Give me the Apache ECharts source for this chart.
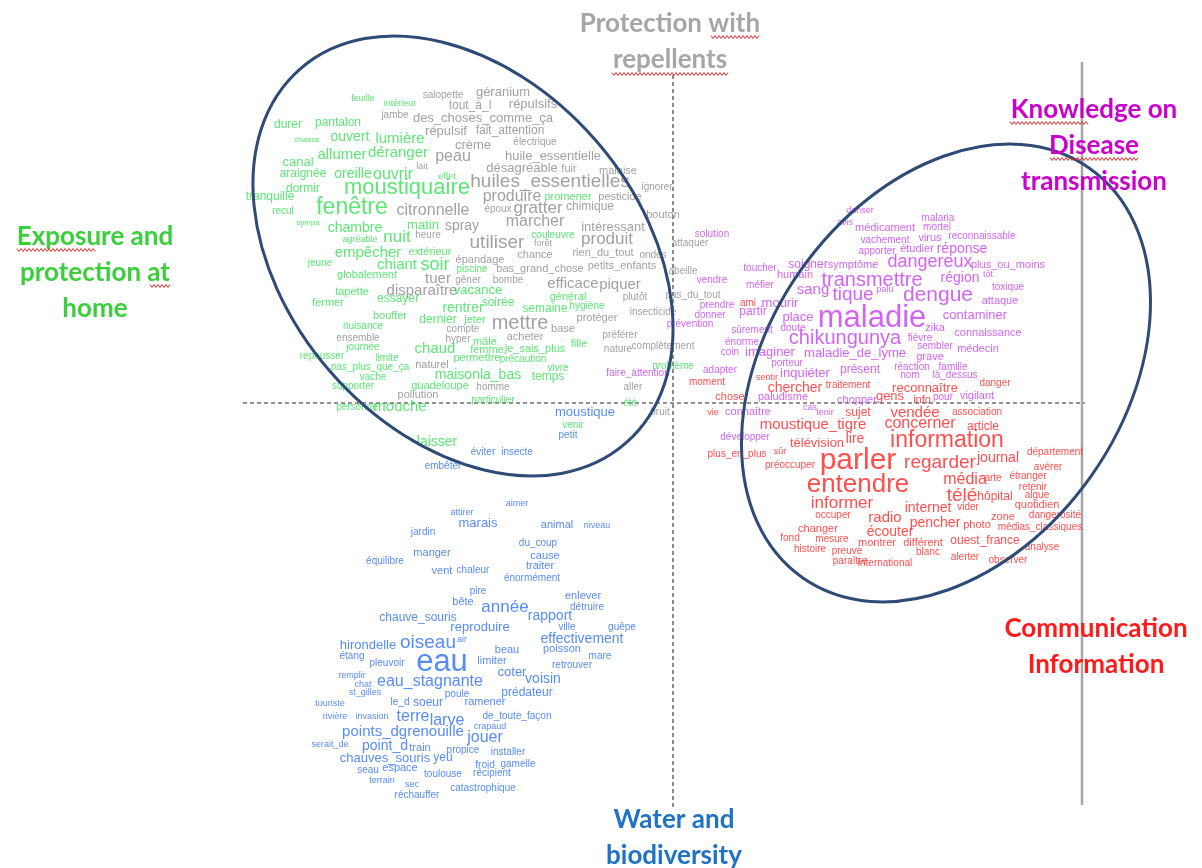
<!DOCTYPE html>
<html>
<head>
<meta charset="utf-8">
<script src="https://cdn.jsdelivr.net/npm/echarts@6/dist/echarts.min.js"></script>
<style>html,body{margin:0;padding:0;background:#fff}#c{width:1202px;height:868px}</style>
</head>
<body>
<div id="c"></div>
<script>
// [word, factor1, factor2, weight]
const greenWords = [
 ["feuille",-310,304,9],["intérieur",-273,299,9],["durer",-385,278,12],["pantalon",-335,280,12],
 ["chasse",-366,263,8],["ouvert",-323,266,14],["lumière",-273,264,15],["allumer",-331,248,15],
 ["déranger",-275,250,15],["canal",-375,241,13],["araignée",-370,229,12],["oreille",-320,229,14],
 ["ouvrir",-280,228,16],["effet",-226,226,9],["dormir",-370,214,12],["moustiquaire",-266,215,22],
 ["tranquille",-403,206,12],["fenêtre",-321,195,23],["recul",-390,192,10],["sympa",-365,180,8],
 ["chambre",-318,175,14],["matin",-250,178,13],["agréable",-313,163,9],["nuit",-276,166,17],
 ["promener",-105,206,11],["couleuvre",-120,168,10],["empêcher",-305,150,15],["extérieur",-243,151,11],
 ["jeune",-353,140,10],["chiant",-276,138,15],["soir",-238,138,18],["globalement",-306,128,11],
 ["tapette",-321,111,11],["essayer",-275,104,12],["fermer",-345,100,11],["bouffer",-283,87,11],
 ["dernier",-235,83,12],["nuisance",-310,77,10],["journée",-310,56,10],["chaud",-238,54,15],
 ["repousser",-351,47,10],["limite",-286,45,10],["pas_plus_que_ça",-303,36,10],["vache",-300,26,10],
 ["supporter",-320,17,10],["guadeloupe",-233,17,11],["personne",-316,-4,10],["mouche",-273,-4,15],
 ["laisser",-236,-39,14],["piscine",-201,134,10],["vacance",-195,113,13],["général",-105,106,11],
 ["rentrer",-210,95,14],["soirée",-175,100,12],["semaine",-128,94,12],["hygiène",-86,97,10],
 ["jeter",-198,83,11],["mâle",-188,61,11],["fille",-94,59,11],["femme",-186,53,11],
 ["je_sais_plus",-138,54,11],["permettre",-196,45,11],["précaution",-150,44,10],["maisonla_bas",-195,28,14],
 ["temps",-125,26,12],["vivre",-115,35,10],["problème",0,37,10],["particulier",-180,3,10],
 ["été",-43,0,10],["venir",-100,-22,10]
];
const greyWords = [
 ["salopette",-230,308,10],["tout_à_l",-203,297,12],["jambe",-278,288,10],["des_choses_comme_ça",-190,285,13],
 ["répulsif",-227,272,13],["fait_attention",-163,272,12],["géranium",-170,311,13],["répulsifs",-140,299,13],
 ["crème",-200,258,13],["électrique",-138,261,10],["peau",-220,246,16],["lait",-251,236,9],
 ["huile_essentielle",-120,247,13],["désagréable",-151,235,13],["fuir",-104,234,11],["malaise",-55,232,11],
 ["huiles_essentielles",-123,221,19],["ignorer",-16,216,10],["produire",-161,206,16],["pesticide",-53,206,11],
 ["époux",-175,194,10],["gratter",-135,195,17],["chimique",-83,196,12],["bouton",-10,188,11],
 ["citronnelle",-240,192,16],["marcher",-138,181,16],["spray",-211,177,14],["intéressant",-60,176,13],
 ["heure",-245,168,10],["utiliser",-176,160,19],["forêt",-130,159,9],["produit",-66,164,17],
 ["attaquer",17,160,10],["tuer",-235,124,15],["disparaître",-251,112,15],["ensemble",-315,65,10],
 ["naturel",-241,38,11],["pollution",-255,8,11],["épandage",-193,143,11],["chance",-138,148,11],
 ["rien_du_tout",-70,150,11],["ondes",-20,148,10],["bas_grand_chose",-133,134,11],["petits_enfants",-51,137,11],
 ["abeille",10,132,10],["gêner",-205,123,10],["bombe",-165,123,10],["efficace",-100,119,15],
 ["piquer",-53,118,15],["plutôt",-38,106,10],["insecticide",-20,91,10],["mettre",-153,80,20],
 ["protéger",-76,85,11],["base",-110,74,11],["compte",-210,74,10],["hyper",-215,64,10],
 ["acheter",-148,66,11],["préférer",-53,68,10],["nature",-55,54,10],["complètement",-10,57,10],
 ["homme",-180,16,10],["aller",-40,16,10],["bruit",-13,-9,10],["pas_du_tout",20,108,10]
];
const magentaWords = [
 ["danser",187,192,9],["avis",172,180,9],["médicament",212,175,11],["malaria",265,185,10],
 ["mortel",264,176,10],["vachement",212,163,10],["virus",257,165,11],["reconnaissable",309,167,10],
 ["apporter",204,152,10],["étudier",244,154,11],["réponse",289,154,14],["symptôme",180,138,11],
 ["solution",39,169,10],["toucher",87,135,10],["soigner",135,138,12],["humain",122,128,11],
 ["dangereux",257,141,18],["plus_ou_moins",335,138,11],["transmettre",199,123,20],["vendre",39,123,10],
 ["région",287,125,14],["tôt",315,128,9],["palu",212,113,9],["sang",140,113,15],
 ["méfier",87,118,10],["tique",180,108,19],["toxique",335,116,10],["dengue",265,108,21],
 ["attaque",327,102,11],["prendre",44,98,10],["mourir",107,100,13],["donner",37,88,10],
 ["partir",80,91,12],["place",125,86,13],["maladie",199,85,31],["prévention",17,79,10],
 ["contaminer",302,88,13],["zika",262,75,11],["connaissance",315,70,11],["sûrement",79,73,10],
 ["doute",120,75,10],["chikungunya",172,65,20],["fièvre",247,65,10],["sembler",262,57,10],
 ["médecin",305,54,11],["énorme",69,61,10],["coin",57,51,10],["imaginer",97,51,13],
 ["maladie_de_lyme",182,50,13],["grave",257,46,11],["porteur",114,40,10],["réaction",239,36,10],
 ["famille",280,36,10],["adapter",47,33,10],["inquiéter",132,30,13],["présent",187,33,12],
 ["nom",237,28,10],["là_dessus",282,28,10],["paludisme",110,6,11],["chopper",184,3,11],
 ["connaître",75,-9,11],["cas",137,-5,9],["tenir",152,-10,9],["développer",72,-34,10],
 ["pour",270,6,10],["vigilant",304,7,11],["faire_attention",-35,30,10]
];
const redWords = [
 ["moment",34,21,10],["sentir",94,25,9],["chercher",122,15,14],["traitement",175,18,10],
 ["reconnaître",252,15,13],["danger",322,20,10],["chose",57,6,11],["gens",217,7,13],
 ["info",249,3,11],["vie",40,-10,9],["sujet",185,-10,12],["vendée",242,-10,15],
 ["association",304,-9,10],["moustique_tigre",140,-22,15],["concerner",247,-21,16],["article",310,-24,12],
 ["télévision",144,-40,13],["lire",182,-36,14],["information",274,-38,23],["plus_en_plus",64,-51,10],
 ["sûr",107,-49,9],["préoccuper",117,-62,10],["parler",185,-58,30],["regarder",267,-60,19],
 ["journal",325,-55,14],["département",382,-49,10],["avérer",375,-64,10],["entendre",185,-82,26],
 ["média",292,-77,16],["arte",320,-75,10],["étranger",355,-73,10],["retenir",360,-84,10],
 ["télé",289,-93,19],["hôpital",322,-94,12],["algue",364,-92,10],["quotidien",364,-102,11],
 ["informer",169,-100,17],["internet",255,-105,14],["vider",295,-104,10],["dangerosité",382,-112,10],
 ["radio",212,-115,15],["zone",330,-114,11],["occuper",160,-112,10],["pencher",262,-120,14],
 ["photo",304,-122,11],["médias_classiques",367,-124,10],["écouter",217,-129,14],["changer",145,-126,11],
 ["fond",117,-135,10],["mesure",159,-136,10],["montrer",204,-140,11],["différent",250,-140,11],
 ["ouest_france",312,-138,12],["analyse",369,-144,10],["histoire",137,-146,10],["preuve",174,-148,10],
 ["blanc",255,-149,10],["paraître",177,-158,10],["international",212,-160,10],["alerter",292,-154,10],
 ["observer",335,-157,10],["ami",75,100,10]
];
const blueWords = [
 ["moustique",-88,-9,13],["petit",-105,-32,10],["éviter",-190,-49,10],["insecte",-156,-49,10],
 ["embêter",-230,-63,10],["attirer",-211,-110,9],["aimer",-156,-101,9],["marais",-195,-120,13],
 ["animal",-116,-122,11],["niveau",-76,-123,9],["jardin",-250,-129,10],["du_coup",-135,-140,10],
 ["manger",-241,-150,11],["équilibre",-288,-158,10],["cause",-128,-153,11],["traiter",-133,-163,11],
 ["vent",-231,-168,11],["chaleur",-200,-167,10],["énormément",-141,-175,10],["pire",-195,-188,10],
 ["bête",-210,-199,11],["enlever",-90,-193,11],["année",-168,-204,17],["détruire",-86,-204,10],
 ["rapport",-123,-213,14],["chauve_souris",-255,-215,12],["reproduire",-193,-224,13],["ville",-106,-224,10],
 ["guêpe",-51,-224,10],["effectivement",-91,-236,14],["hirondelle",-305,-242,13],["oiseau",-245,-240,19],
 ["air",-211,-237,9],["étang",-321,-253,10],["eau",-231,-259,31],["beau",-166,-247,11],
 ["poisson",-111,-246,11],["mare",-73,-253,10],["pleuvoir",-286,-260,10],["limiter",-181,-258,11],
 ["retrouver",-101,-262,10],["remplir",-321,-273,9],["chat",-310,-282,9],["eau_stagnante",-243,-279,16],
 ["coter",-161,-269,13],["voisin",-130,-276,14],["st_gilles",-308,-290,9],["poule",-216,-291,10],
 ["prédateur",-146,-290,12],["touriste",-343,-301,9],["le_d",-273,-299,10],["soeur",-245,-300,12],
 ["ramener",-188,-299,11],["rivière",-338,-314,9],["invasion",-301,-314,9],["terre",-260,-314,16],
 ["larve",-226,-318,16],["de_toute_façon",-156,-313,10],["crapaud",-183,-324,9],["points_dgrenouille",-270,-329,15],
 ["jouer",-188,-335,16],["serait_de",-343,-342,9],["point_d",-288,-343,14],["train",-253,-345,11],
 ["propice",-210,-347,10],["installer",-165,-349,10],["chauves_souris",-288,-355,13],["yeu",-230,-355,12],
 ["froid",-188,-362,10],["gamelle",-155,-361,10],["seau",-305,-367,10],["espace",-273,-365,11],
 ["toulouse",-230,-371,10],["récipient",-181,-370,10],["terrain",-291,-378,9],["sec",-261,-382,9],
 ["catastrophique",-190,-385,10],["réchauffer",-256,-392,10]
];
// reference lines (factor axes) and cluster ellipses [cx, cy, semiMajor, semiMinor, angleDeg]
const axisH = [[-430,0],[412,0]];
const axisV = [[0,328],[0,-405]];
const frameLine = [[409,341],[409,-402]];
const clusterEllipses = [[-210,147,248,176,-49],[273,30,250,178,55]];

const chart = echarts.init(document.getElementById('c'), null, {renderer:'canvas'});
const FONT = '"Liberation Sans", Arial, sans-serif';
function wordSeries(arr, color){
  return {
    type:'scatter', symbolSize:1, itemStyle:{color:'rgba(0,0,0,0)'}, silent:true, z:3,
    emphasis:{disabled:true},
    label:{show:true, position:'inside', color:color, fontFamily:FONT,
      formatter:p=>p.name},
    data: arr.map(w=>({name:w[0], value:[w[1],w[2]], label:{fontSize:w[3]}}))
  };
}
function refLine(d, color, type, width){
  return {type:'line', data:d, symbol:'none', silent:true, z:1, animation:false,
    lineStyle:{color:color, type:type, width:width}};
}
const titleFont = 'bold 26px Lato, "Open Sans", sans-serif';
function titleText(text, x, y, color){
  return {type:'text', x:x, y:y, z:20, style:{text:text, font:titleFont, fill:color,
    textAlign:'center', textVerticalAlign:'middle', lineHeight:36}};
}
// spell-check style wavy underline (decoration only)
function wavy(x0, x1, y){
  const pts = [];
  for (let x = x0, k = 0; x <= x1; x += 2, k++) pts.push([x, y + (k % 2 ? 1.5 : -1.5)]);
  return {type:'polyline', z:21, silent:true, shape:{points:pts}, style:{stroke:'#e03030', lineWidth:1, fill:null}};
}
chart.setOption({
  animation:false,
  backgroundColor:'#ffffff',
  grid:{left:0, right:0, top:0, bottom:0},
  xAxis:{type:'value', min:-673, max:529, show:false, splitLine:{show:false}},
  yAxis:{type:'value', min:-465, max:403, show:false, splitLine:{show:false}},
  series:[
    refLine(axisH, '#6f6f6f', [4,3], 1.6),
    refLine(axisV, '#6f6f6f', [4,3], 1.6),
    refLine(frameLine, '#a6a6a6', 'solid', 2.5),
    wordSeries(greyWords, '#8a8a8a'),
    wordSeries(greenWords, '#35e052'),
    wordSeries(magentaWords, '#c83cf0'),
    wordSeries(redWords, '#ff2222'),
    wordSeries(blueWords, '#2d6ff0'),
    {
      type:'custom', coordinateSystem:'cartesian2d', silent:true, z:10,
      data: clusterEllipses,
      renderItem:function(params, api){
        const c = api.coord([api.value(0), api.value(1)]);
        const s = api.size([api.value(2), api.value(3)]);
        return {type:'ellipse', x:c[0], y:c[1], rotation:api.value(4)*Math.PI/180,
          shape:{cx:0, cy:0, rx:s[0], ry:s[1]},
          style:{fill:'none', stroke:'#2e4b77', lineWidth:3}};
      }
    }
  ],
  graphic:[
    titleText('Protection with\nrepellents', 670, 42, '#a6a6a6'),
    titleText('Knowledge on\nDisease\ntransmission', 1094, 146, '#cc00cc'),
    titleText('Exposure and\nprotection at\nhome', 95, 273, '#3ccf3c'),
    titleText('Communication\nInformation', 1096, 647, '#ff1a1a'),
    titleText('Water and\nbiodiversity', 674, 838, '#1f72c4'),
    wavy(711, 760, 37), wavy(612, 728, 74),
    wavy(1010, 1088, 123), wavy(1050, 1138, 159),
    wavy(17, 96, 250), wavy(150, 170, 286)
  ]
});
</script>
</body>
</html>
